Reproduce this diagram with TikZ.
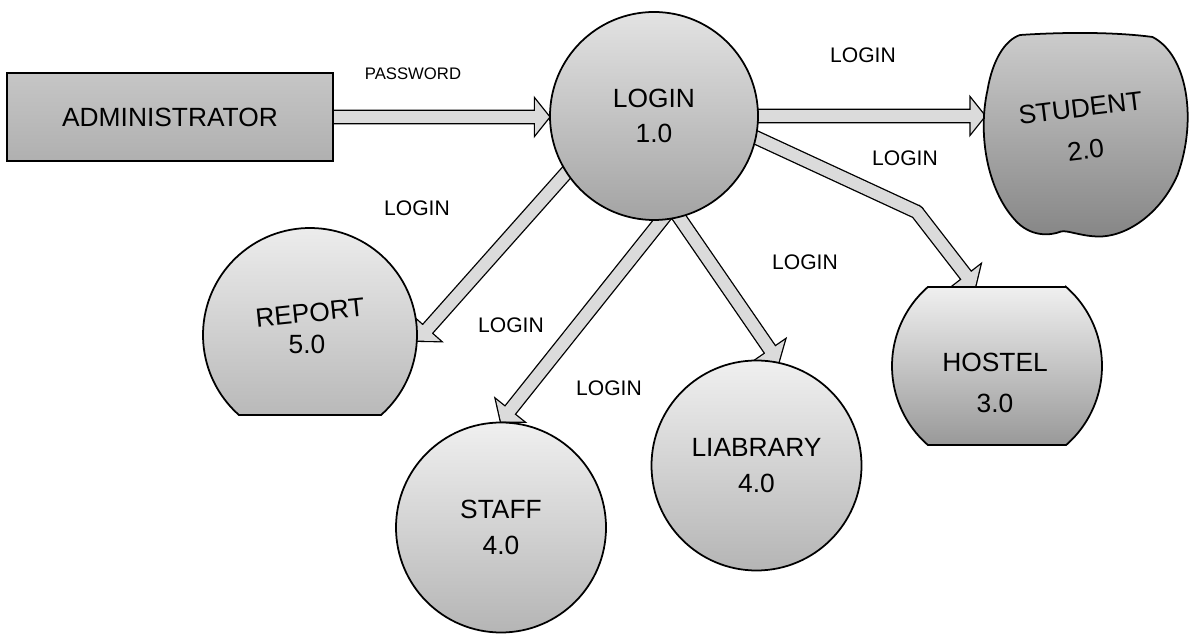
\documentclass[tikz,border=0pt]{standalone}
\usepackage{fontspec}
\setmainfont{Liberation Sans}
\usetikzlibrary{calc,backgrounds}
\definecolor{shaftgray}{gray}{0.86}

\begin{document}
\begin{tikzpicture}[
  proc/.style = {circle, draw, line width=1pt, minimum size=4.2cm, inner sep=0pt, align=center, font=\fontsize{15}{20}\selectfont},
  tone/.style 2 args = {top color=#1, bottom color=#2},
  holder/.style = {circle, inner sep=0pt, minimum size=#1},
  caption/.style = {align=center, inner sep=0pt, font=\fontsize{15}{#1}\selectfont},
  flow/.style = {font=\fontsize{12}{14}\selectfont},
  ink/.style = {draw=black, line width=1.5pt},
  paint/.style = {fill=shaftgray},
  fat/.style = {to path={
      let \p1=(\tikztostart), \p2=(\tikztotarget),
          \n1={atan2(\y2-\y1,\x2-\x1)}, \n2={veclen(\x2-\x1,\y2-\y1)} in
      ($(\p1)+({\n1+180}:#1)+({\n1+90}:3.4pt)$)
      -- ($(\p1)+(\n1:{\n2-8pt})+({\n1+90}:3.4pt)$)
      -- ($(\p1)+(\n1:{\n2-8pt})+({\n1+90}:10pt)$)
      -- (\p2)
      -- ($(\p1)+(\n1:{\n2-8pt})+({\n1-90}:10pt)$)
      -- ($(\p1)+(\n1:{\n2-8pt})+({\n1-90}:3.4pt)$)
      -- ($(\p1)+({\n1+180}:#1)+({\n1-90}:3.4pt)$) -- cycle}},
  fat/.default = 6pt,
  band/.style = {to path={
      let \p1=(\tikztostart), \p2=(\tikztotarget),
          \n1={atan2(\y2-\y1,\x2-\x1)} in
      ($(\p1)+({\n1+180}:6pt)+({\n1+90}:3.4pt)$)
      -- ($(\p2)+({\n1+90}:3.4pt)$)
      -- ($(\p2)+({\n1-90}:3.4pt)$)
      -- ($(\p1)+({\n1+180}:6pt)+({\n1-90}:3.4pt)$) -- cycle}},
  ]
  \useasboundingbox (0,0) rectangle (23.9,12.7);

  \node[proc, rectangle, minimum width=6.52cm, minimum height=1.76cm, tone={gray!45}{gray!62}] (admin) at (3.40,10.36) {ADMINISTRATOR};
  \node[proc, minimum size=4.16cm, tone={gray!22}{gray!72}] (login) at (13.08,10.38) {LOGIN\\1.0};
  \node[proc, tone={gray!12}{gray!58}] (staff) at (10.02,2.15) {STAFF\\4.0};
  \node[proc, tone={gray!12}{gray!58}] (liabrary) at (15.13,3.39) {LIABRARY\\4.0};

  \node[holder=4.28cm] (report) at (6.20,6.00) {};
  \node[holder=4.2cm] (hostel) at (19.94,5.38) {};
  \node[holder=4.06cm] (student) at (21.73,9.96) {};

  \draw[line width=1pt, tone={gray!12}{gray!55}]
    ($(report.center)+(-48.4:2.14)$) arc[start angle=-48.4, end angle=228.4, radius=2.14] -- cycle;
  \draw[line width=1pt, tone={gray!12}{gray!80}]
    ($(hostel.center)+(48.8:2.1)$) -- ($(hostel.center)+(131.2:2.1)$)
    arc[start angle=131.2, end angle=228.8, radius=2.1]
    -- ($(hostel.center)+(311.2:2.1)$)
    arc[start angle=311.2, end angle=408.8, radius=2.1] -- cycle;
  \draw[line width=1pt, tone={gray!40}{gray!95}]
    (20.40,12.00) .. controls (21.3,12.06) and (22.3,12.06) .. (23.05,11.96)
    .. controls (23.75,11.6) and (23.95,10.3) .. (23.55,9.2)
    .. controls (23.2,8.4) and (22.5,7.95) .. (21.95,7.97)
    .. controls (21.6,7.98) and (21.35,8.1) .. (21.22,8.07)
    .. controls (21.0,7.98) and (20.6,7.96) .. (20.3,8.3)
    .. controls (19.75,8.9) and (19.55,10.0) .. (19.75,10.9)
    .. controls (19.85,11.5) and (20.1,11.9) .. (20.40,12.00) -- cycle;

  \node[caption=17, rotate=6] (report-name) at (6.20,6.44) {REPORT};
  \node[caption=17] (report-num) at (6.14,5.82) {5.0};
  \node[caption=23] (hostel-text) at (19.90,5.04) {HOSTEL\\3.0};
  \node[caption=24, rotate=7] (student-text) at (21.66,10.12) {STUDENT\\2.0};

  \node[font=\fontsize{9.5}{11}\selectfont] (password) at (8.26,11.22) {PASSWORD};
  \node[flow] (login-student) at (17.26,11.60) {LOGIN};
  \node[flow] (login-hostel) at (18.10,9.54) {LOGIN};
  \node[flow] (login-liabrary) at (16.10,7.46) {LOGIN};
  \node[flow] (login-report) at (8.34,8.54) {LOGIN};
  \node[flow] (login-staff) at (10.22,6.20) {LOGIN};
  \node[flow] (login-mid) at (12.18,4.94) {LOGIN};

  \coordinate (bend) at (18.34,8.46);
  \coordinate (hostel-top) at ([shift={(-0.44,1.58)}]hostel.center);

  \begin{pgfonlayer}{background}
    \foreach \pass in {ink,paint}{
      \path[\pass] (admin.east) to[fat] (admin.east -| login.west)
        (login.east) to[fat] (login.east -| student.west)
        (login.-12) to[band] (bend)
        (bend) -- ($(bend)!3.4pt!-90:(login.-12)$) -- ($(bend)!3.4pt!90:(hostel-top)$) -- cycle
        (bend) to[fat=0pt] (hostel-top)
        (login.213) to[fat] (report.-3)
        (login.-86) to[fat] (staff.north)
        (login.-76) to[fat] (liabrary.78);
    }
  \end{pgfonlayer}
\end{tikzpicture}
\end{document}
